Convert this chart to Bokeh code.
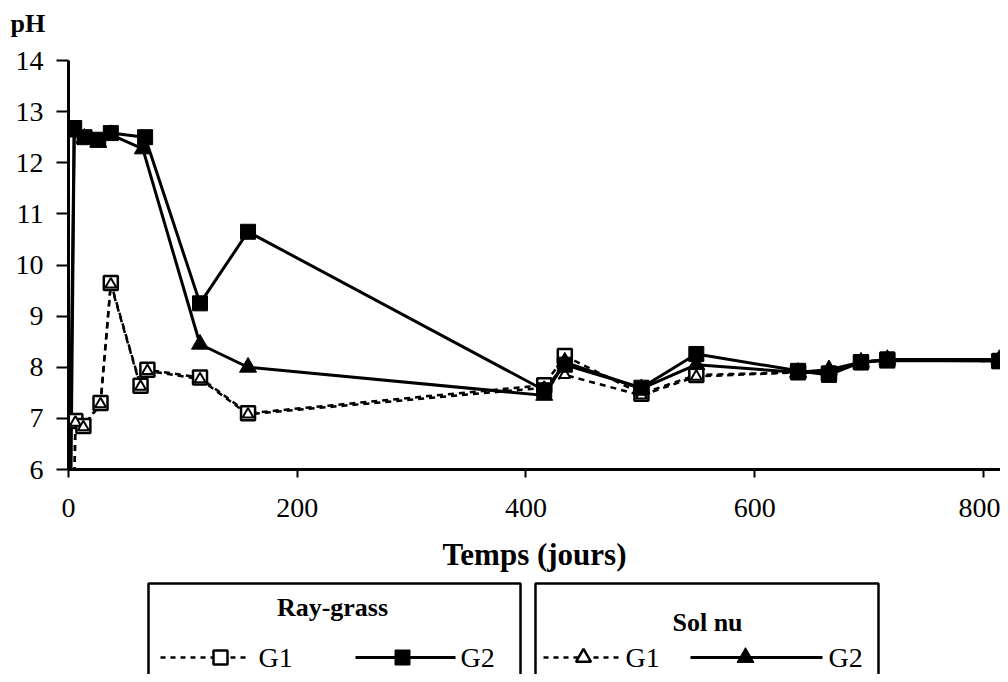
from bokeh.plotting import figure
from bokeh.models import Range1d, FixedTicker, Title
from bokeh.layouts import column
from bokeh.embed import file_html
from bokeh.resources import INLINE
from bokeh.core.properties import value

# ---------------- data ----------------
x_ticks = [0, 200, 400, 600, 800]
y_ticks = [6, 7, 8, 9, 10, 11, 12, 13, 14]

rg_g1_days = [5, 6, 13, 28, 37, 63, 69, 115, 157, 416, 434, 501, 549, 638, 665, 693, 716, 814]
rg_g1_ph = [5.5, 6.95, 6.85, 7.3, 9.65, 7.64, 7.95, 7.8, 7.1, 7.65, 8.22, 7.48, 7.85, 7.9, 7.88, 8.1, 8.15, 8.12]

sn_g1_days = [5, 6, 13, 28, 37, 63, 69, 115, 157, 416, 434, 501, 549, 638, 665, 693, 716, 814]
sn_g1_ph = [5.5, 6.92, 6.83, 7.28, 9.62, 7.62, 7.93, 7.77, 7.08, 7.6, 7.85, 7.45, 7.82, 7.9, 7.9, 8.1, 8.15, 8.12]

rg_g2_days = [1, 5, 14, 26, 37, 67, 115, 157, 416, 434, 501, 549, 638, 665, 693, 716, 814]
rg_g2_ph = [5.5, 12.68, 12.5, 12.45, 12.58, 12.5, 9.25, 10.65, 7.55, 8.05, 7.6, 8.26, 7.93, 7.85, 8.1, 8.13, 8.12]

sn_g2_days = [2, 5, 14, 26, 37, 65, 115, 157, 416, 434, 501, 549, 638, 665, 693, 716, 814]
sn_g2_ph = [5.5, 12.6, 12.48, 12.4, 12.55, 12.27, 8.45, 8.0, 7.45, 8.1, 7.58, 8.05, 7.9, 7.95, 8.1, 8.15, 8.15]

x_label = "Temps (jours)"
y_label = "pH"
group_titles = ["Ray-grass", "Sol nu"]
series_names = ["G1", "G2"]

SERIF = "Liberation Serif"

# ---------------- main figure ----------------
p = figure(width=1000, height=579, output_backend="svg", toolbar_location=None,
           title=None,
           x_range=Range1d(0, 815), y_range=Range1d(6, 14),
           min_border_left=68, min_border_right=0, min_border_top=60, min_border_bottom=110)
p.outline_line_color = None
p.grid.visible = False
p.background_fill_color = "white"
p.border_fill_color = "white"

# spacer panel next to the frame, then the "pH" heading above it
p.add_layout(Title(text="\u00a0", text_font_size="17px", standoff=0,
                   text_color="white"), "above")
p.add_layout(Title(text=y_label, align="left", offset=-58, standoff=4,
                   text_font=SERIF, text_font_style="bold", text_font_size="26px",
                   text_color="black"), "above")

for ax in (p.xaxis[0], p.yaxis[0]):
    ax.axis_line_width = 3
    ax.axis_line_color = "black"
    ax.major_tick_line_width = 2
    ax.major_tick_line_color = "black"
    ax.major_tick_in = 0
    ax.minor_tick_out = 0
    ax.minor_tick_in = 0
    ax.major_label_text_font = SERIF
    ax.major_label_text_font_size = "28px"
    ax.major_label_text_color = "black"

p.xaxis.ticker = FixedTicker(ticks=x_ticks)
p.yaxis.ticker = FixedTicker(ticks=y_ticks)
p.xaxis.major_tick_out = 8
p.yaxis.major_tick_out = 12
p.xaxis.major_label_standoff = 21
p.yaxis.major_label_standoff = 13
p.xaxis.axis_label = x_label
p.xaxis.axis_label_text_font = SERIF
p.xaxis.axis_label_text_font_style = "bold"
p.xaxis.axis_label_text_font_size = "31px"
p.xaxis.axis_label_text_color = "black"
p.xaxis.axis_label_standoff = 17

DASH = "6 5"
# lines
p.line(sn_g1_days, sn_g1_ph, line_color="black", line_width=2.5, line_dash=DASH)
p.line(rg_g1_days, rg_g1_ph, line_color="black", line_width=2.5, line_dash=DASH)
p.line(sn_g2_days, sn_g2_ph, line_color="black", line_width=3)
p.line(rg_g2_days, rg_g2_ph, line_color="black", line_width=3)

# markers
p.scatter(rg_g1_days, rg_g1_ph, marker="square", size=14, line_color="black",
          line_width=2.5, fill_color="white")
p.scatter(sn_g1_days, sn_g1_ph, marker="triangle", size=11, line_color="black",
          line_width=2, fill_color="white")
p.scatter(sn_g2_days, sn_g2_ph, marker="triangle", size=17, line_color="black",
          line_width=1, fill_color="black")
p.scatter(rg_g2_days, rg_g2_ph, marker="square", size=15, line_color="black",
          line_width=1, fill_color="black")

# ---------------- legend figure ----------------
# its frame is aligned with the main frame; coordinates are page pixels
lg = figure(width=1000, height=95, output_backend="svg", toolbar_location=None,
            x_range=Range1d(68, 1000), y_range=Range1d(674, 579),
            min_border_left=68, min_border_right=0, min_border_top=0, min_border_bottom=0)
lg.axis.visible = False
lg.grid.visible = False
lg.outline_line_color = None

lg.quad(left=[148, 535], right=[520, 878], top=[583, 583], bottom=[700, 700],
        fill_color=None, line_color="black", line_width=2.5)

lg.text(x=[332, 707], y=[607, 622], text=group_titles, text_font=value(SERIF),
        text_font_style="bold", text_font_size="26px", text_align="center",
        text_baseline="middle", text_color="black")

row_y = 657
# Ray-grass G1
lg.line([160, 250], [row_y, row_y], line_color="black", line_width=2.5, line_dash="5 5")
lg.scatter([220], [row_y], marker="square", size=14, line_color="black", line_width=2.5, fill_color="white")
# Ray-grass G2
lg.line([355, 455], [row_y, row_y], line_color="black", line_width=3)
lg.scatter([402], [row_y], marker="square", size=15, line_color="black", fill_color="black")
# Sol nu G1
lg.line([543, 618], [row_y, row_y], line_color="black", line_width=2.5, line_dash="5 5")
lg.scatter([583], [row_y], marker="triangle", size=15, line_color="black", line_width=2.5, fill_color="white")
# Sol nu G2
lg.line([690, 822], [row_y, row_y], line_color="black", line_width=3)
lg.scatter([745], [row_y], marker="triangle", size=17, line_color="black", fill_color="black")

lg.text(x=[258, 460, 625, 828], y=[row_y] * 4, text=series_names * 2,
        text_font=value(SERIF), text_font_size="28px", text_align="left",
        text_baseline="middle", text_color="black")

layout = column(p, lg, spacing=0)
open("out.html", "w").write(file_html(layout, INLINE))
